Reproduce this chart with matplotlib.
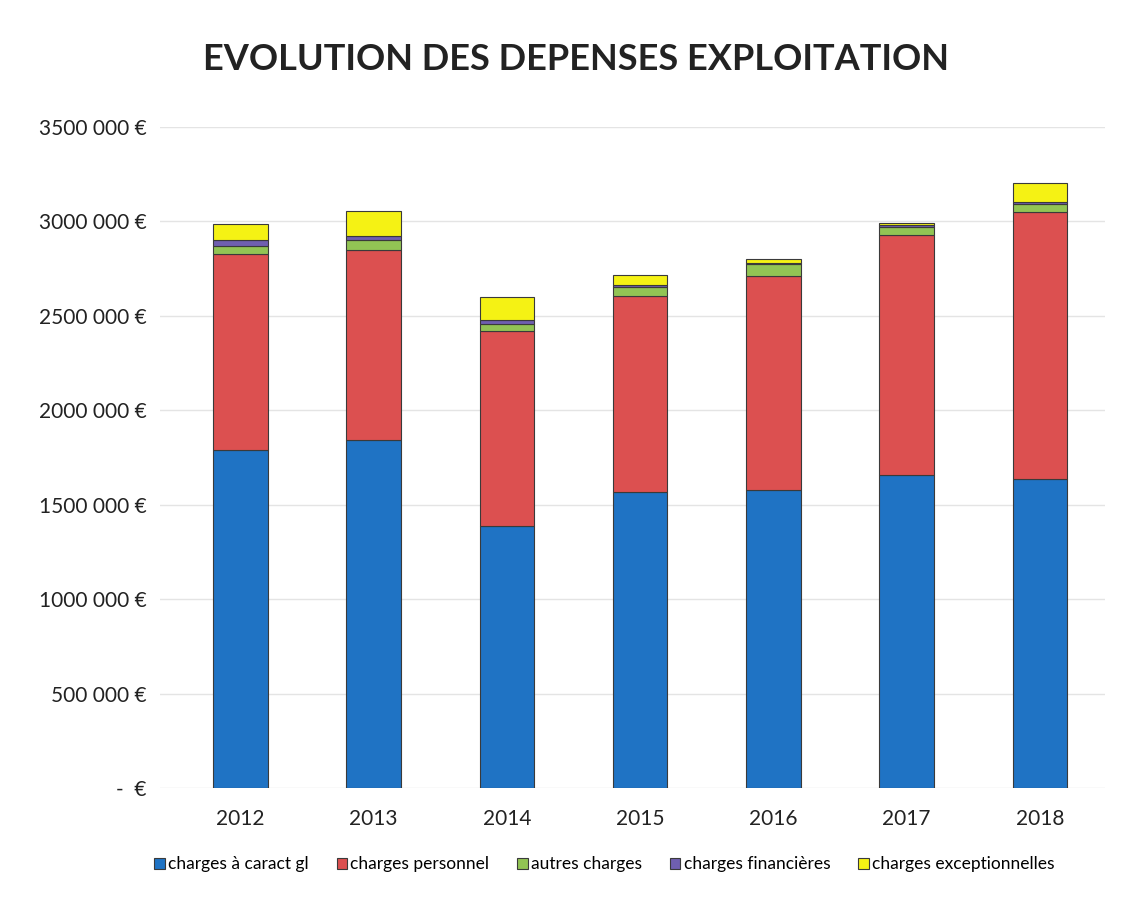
import numpy as np
import matplotlib.pyplot as plt
from matplotlib.ticker import FixedLocator

plt.rcParams['font.family'] = ['Lato', 'DejaVu Sans']

years = ["2012", "2013", "2014", "2015", "2016", "2017", "2018"]
charges_caract = [1789000, 1842000, 1387000, 1567000, 1578000, 1657000, 1636000]
charges_personnel = [1038000, 1006000, 1032000, 1038000, 1132000, 1271000, 1413000]
autres_charges = [42000, 53000, 37000, 48000, 62000, 42000, 42000]
charges_financieres = [32000, 21000, 21000, 10000, 8000, 8000, 10000]
charges_exceptionnelles = [85000, 132000, 122000, 53000, 18000, 12000, 100000]

series_names = ["charges à caract gl", "charges personnel", "autres charges",
                "charges financières", "charges exceptionnelles"]
colors = ["#1f73c4", "#dc5050", "#92c454", "#6f5fb0", "#f5f214"]

y_ticks = [0, 500000, 1000000, 1500000, 2000000, 2500000, 3000000, 3500000]
y_tick_labels = ["-  €", "500 000 €", "1000 000 €", "1500 000 €", "2000 000 €",
                 "2500 000 €", "3000 000 €", "3500 000 €"]

fig = plt.figure(figsize=(11.22, 8.99), dpi=100)
ax = fig.add_axes([0.143, 0.1235, 0.842, 0.7355])

x = np.arange(len(years))
bottom = np.zeros(len(years))
for name, vals, col in zip(series_names,
                           [charges_caract, charges_personnel, autres_charges,
                            charges_financieres, charges_exceptionnelles],
                           colors):
    ax.bar(x, vals, width=0.41, bottom=bottom, color=col, edgecolor="#3a3a3a",
           linewidth=0.8, label=name, zorder=3)
    bottom += np.array(vals)

ax.set_xlim(-0.6, 6.49)
ax.set_ylim(0, 3500000)
ax.yaxis.set_major_locator(FixedLocator(y_ticks))
ax.set_yticklabels(y_tick_labels)
ax.set_xticks(x)
ax.set_xticklabels(years)
ax.tick_params(axis="both", length=0, labelsize=15, colors="#222222")
ax.tick_params(axis="y", pad=10)
ax.tick_params(axis="x", pad=15)
ax.grid(axis="y", color="#e4e4e4", linewidth=1, zorder=0)
for s in ax.spines.values():
    s.set_visible(False)

fig.suptitle("EVOLUTION DES DEPENSES EXPLOITATION", x=0.513, y=0.952,
             fontsize=26, fontweight="bold", color="#222222")

ax.legend(loc="upper center", bbox_to_anchor=(0.47, -0.08), ncol=5,
          frameon=False, fontsize=12.5, handlelength=0.6, handleheight=0.6,
          handletextpad=0.2, columnspacing=1.6)

fig.savefig("out.png", dpi=100, facecolor="white")
